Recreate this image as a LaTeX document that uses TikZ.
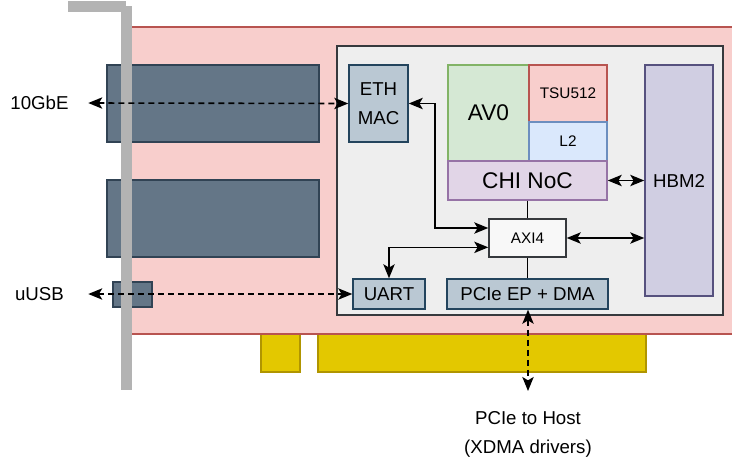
\documentclass[tikz,border=0pt]{standalone}
\usepackage{fontspec}
\setmainfont{Liberation Sans}
\usetikzlibrary{arrows.meta}

\definecolor{boardfill}{HTML}{F8CECC}
\definecolor{boardline}{HTML}{B85450}
\definecolor{portfill}{HTML}{647687}
\definecolor{portline}{HTML}{314354}
\definecolor{ipfill}{HTML}{BAC8D3}
\definecolor{ipline}{HTML}{23445D}
\definecolor{corefill}{HTML}{D5E8D4}
\definecolor{coreline}{HTML}{82B366}
\definecolor{cachefill}{HTML}{DAE8FC}
\definecolor{cacheline}{HTML}{6C8EBF}
\definecolor{nocfill}{HTML}{E1D5E7}
\definecolor{nocline}{HTML}{9673A6}
\definecolor{memfill}{HTML}{D0CEE2}
\definecolor{memline}{HTML}{56517E}
\definecolor{fpgafill}{HTML}{EEEEEE}
\definecolor{fpgaline}{HTML}{36393D}
\definecolor{goldfill}{HTML}{E3C800}
\definecolor{goldline}{HTML}{B09500}
\definecolor{bracketgray}{HTML}{B3B3B3}

\begin{document}
\begin{tikzpicture}[x=0.75pt, y=-0.75pt,
    blk/.style 2 args={rectangle, draw, line width=1.1pt, inner sep=0pt,
        minimum width=#1*0.75pt, minimum height=#2*0.75pt,
        font=\fontsize{14}{22}\selectfont, align=center},
    big/.style={font=\fontsize{17}{20}\selectfont},
    small/.style={font=\fontsize{11.5}{14}\selectfont},
    lbl/.style={font=\fontsize{14}{22}\selectfont, align=center},
    link/.style={line width=1.2pt, {Stealth[length=10.5pt,width=8.5pt,inset=2.5pt]}-{Stealth[length=10.5pt,width=8.5pt,inset=2.5pt]}},
    ext/.style={link, dash pattern=on 4.5pt off 3pt},
    bus/.style={line width=1.2pt}]
    \useasboundingbox (0,0) rectangle (732,461);

    % card edge and board
    \node[blk={39}{39}, fill=goldfill, draw=goldline] (key) at (280.5,352.5) {};
    \node[blk={328}{39}, fill=goldfill, draw=goldline] (edge) at (482,352.5) {};
    \fill[boardfill] (126,27) rectangle (740,334);
    \draw[boardline, line width=1.1pt] (126,27) -- (740,27);
    \draw[boardline, line width=1.1pt] (126,334) -- (740,334);

    % front panel connectors
    \node[blk={212}{77}, fill=portfill, draw=portline] (sfpa) at (213,103.5) {};
    \node[blk={212}{77}, fill=portfill, draw=portline] (sfpb) at (213,218.5) {};
    \node[blk={39}{25}, fill=portfill, draw=portline] (usb) at (132.5,294.5) {};

    % bracket
    \fill[bracketgray] (68,1) rectangle (126,12);
    \fill[bracketgray] (121,6) rectangle (132,390);

    \node[blk={386}{269}, fill=fpgafill, draw=fpgaline] (fpga) at (530,180.5) {};

    \node[blk={59}{77}, fill=ipfill, draw=ipline] (eth) at (378.5,103.5) {ETH\\MAC};
    \node[blk={81}{96}, fill=corefill, draw=coreline, big] (av0) at (488.5,113) {AV0};
    \node[blk={78}{57}, fill=boardfill, draw=boardline, small] (tsu) at (568,93.5) {TSU512};
    \node[blk={78}{39}, fill=cachefill, draw=cacheline, small] (l2) at (568,141.5) {L2};
    \node[blk={159}{39}, fill=nocfill, draw=nocline, big] (noc) at (527.5,180.5) {CHI NoC};
    \node[blk={68}{231}, fill=memfill, draw=memline] (hbm) at (679,180.5) {HBM2};
    \node[blk={77}{38}, fill=white!60!fpgafill, draw=fpgaline, small] (axi) at (527.5,238) {AXI4};
    \node[blk={72}{30}, fill=ipfill, draw=ipline] (uart) at (389,294) {UART};
    \node[blk={161}{30}, fill=ipfill, draw=ipline] (pcie) at (527.5,294) {PCIe EP + DMA};

    \node[lbl, minimum width=97*0.75pt, inner sep=0pt] (gbe) at (39.5,103) {10GbE};
    \node[lbl, minimum width=97*0.75pt, inner sep=0pt] (uusb) at (39.5,294) {uUSB};
    \node[lbl, anchor=north, inner xsep=0pt, inner ysep=15pt] (host) at (528,391) {PCIe to Host\\(XDMA drivers)};

    \draw[ext] (gbe.east) -- (eth.west);
    \draw[ext] (uusb.east) -- (uart.west);
    \draw[ext] (pcie.south -| host.north) -- (host.north);

    \draw[link] (eth.east) -- ++(26,0) |- ([yshift=7.5pt]axi.west);
    \draw[link] (uart.north) |- ([yshift=-7pt]axi.west);
    \draw[bus] (noc.south) -- (axi.north);
    \draw[bus] (axi.south) -- (pcie.north);
    \draw[link] (axi.east) -- (axi.east -| hbm.west);
    \draw[link] (noc.east) -- (hbm.west);
\end{tikzpicture}
\end{document}
